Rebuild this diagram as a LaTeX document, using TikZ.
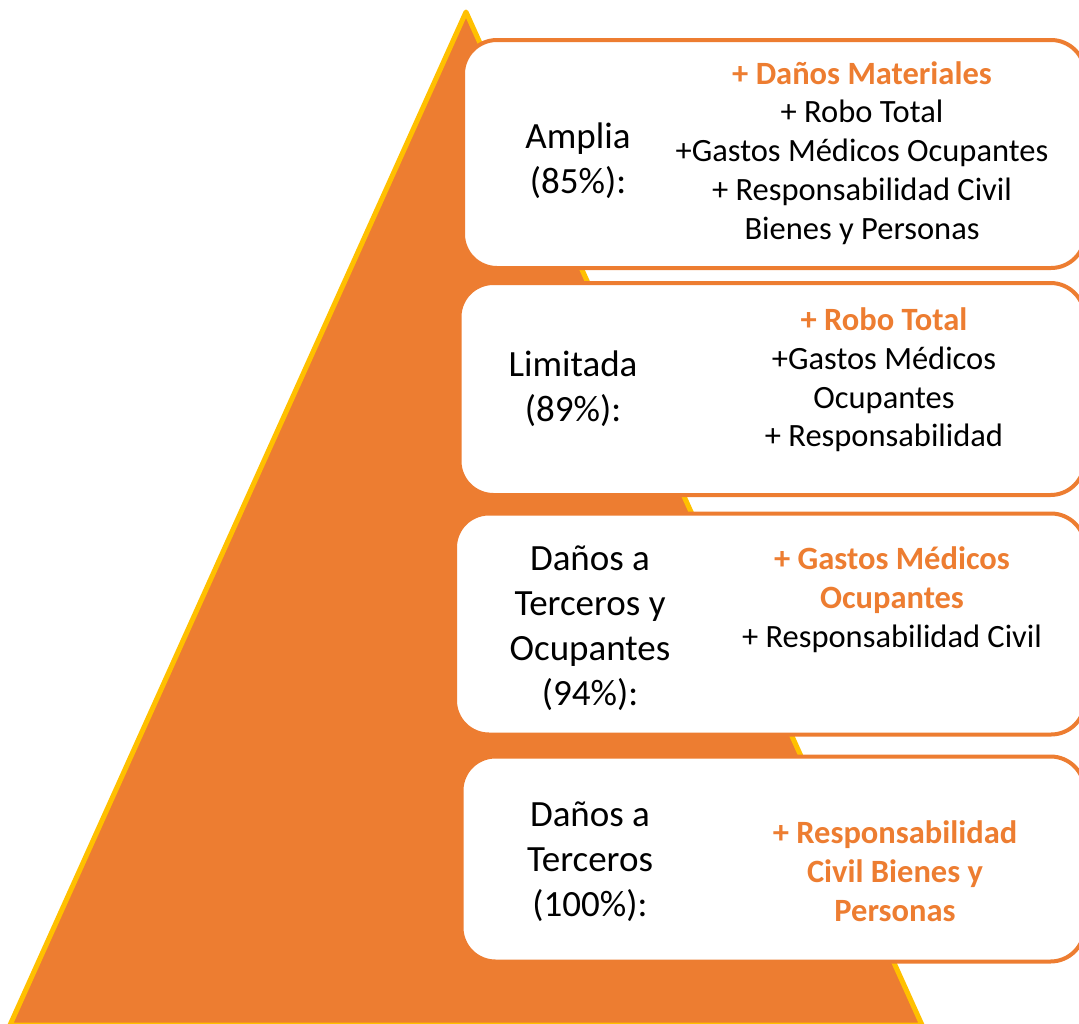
\documentclass[tikz,border=0pt]{standalone}
\usepackage{fontspec}
\setmainfont{Carlito}
\usepackage{tikz}
\usetikzlibrary{positioning}
\definecolor{naranja}{HTML}{ED7D31}
\definecolor{oro}{HTML}{FFC000}

\begin{document}
\begin{tikzpicture}[x=1pt,y=-1pt,
		caja/.style={draw=naranja, line width=4pt, fill=white, rounded corners=34pt, inner sep=0pt},
		nivel/.style={align=center, font=\fontsize{37}{45}\selectfont},
		cobertura/.style={align=center, font=\fontsize{32.5}{38.8}\selectfont},
		extra/.style={text=naranja, font=\bfseries}]
			\useasboundingbox (0,0) rectangle (1079,1023);

			\fill [naranja, draw=oro, line width=5pt, line join=round] (466,12) -- (922,1025) -- (10,1025) -- cycle;

			\node (amplia) [caja, minimum width=622pt, minimum height=228pt] at (774,154) {};
			\node (limitada) [caja, minimum width=625pt, minimum height=212pt] at (772,389) {};
			\node (ocupantes) [caja, minimum width=630pt, minimum height=221pt] at (770,624) {};
			\node (terceros) [caja, minimum width=623pt, minimum height=205pt] at (773,859) {};

			\node (ampliaN) [nivel] at (578,161) {Amplia\\(85\%):};
			\node (ampliaC) [cobertura] at (862,153) {{\color{naranja}\bfseries + Daños Materiales}\\+ Robo Total\\+Gastos Médicos Ocupantes\\+ Responsabilidad Civil\\Bienes y Personas};

			\node (limitadaN) [nivel] at (573,389) {Limitada\\(89\%):};
			\node (limitadaC) [cobertura] at (884,380) {{\color{naranja}\bfseries + Robo Total}\\+Gastos Médicos\\Ocupantes\\+ Responsabilidad};

			\node (ocupantesN) [nivel] at (590,628) {Daños a\\Terceros y\\Ocupantes\\(94\%):};
			\node (ocupantesC) [cobertura] at (892,600) {{\color{naranja}\bfseries + Gastos Médicos}\\{\color{naranja}\bfseries Ocupantes}\\+ Responsabilidad Civil};

			\node (tercerosN) [nivel] at (590,862) {Daños a\\Terceros\\(100\%):};
			\node (tercerosC) [cobertura, text=naranja, font=\fontsize{32.5}{38.8}\selectfont\bfseries] at (895,871) {+ Responsabilidad\\Civil Bienes y\\Personas};
		\end{tikzpicture}
\end{document}
